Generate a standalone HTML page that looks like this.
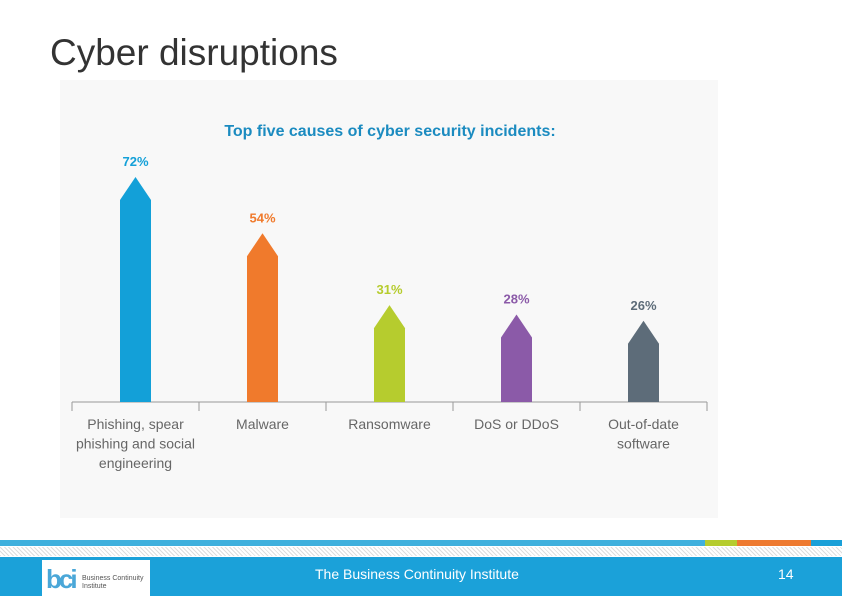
<!DOCTYPE html>
<html><head><meta charset="utf-8"><style>
body{margin:0;width:842px;height:596px;overflow:hidden;background:#fff;font-family:"Liberation Sans",sans-serif;position:relative}
.abs{position:absolute}
</style></head><body>
<div class="abs" style="left:50px;top:32px;font-size:37px;color:#333">Cyber disruptions</div>
<div class="abs" style="left:60px;top:80px;width:658px;height:438px;background:#f8f8f8"></div>
<svg class="abs" style="left:0;top:0" width="842" height="596">
<text x="390" y="136" text-anchor="middle" font-size="16" font-weight="bold" fill="#1b8bc0" font-family="Liberation Sans, sans-serif">Top five causes of cyber security incidents:</text>
<g id="g"></g>
</svg>
<div class="abs" style="left:0;top:540px;width:842px;height:6px;background:#3fb0dd"></div>
<div class="abs" style="left:705px;top:540px;width:32px;height:6px;background:#b5cc2e"></div>
<div class="abs" style="left:737px;top:540px;width:74px;height:6px;background:#ee7a30"></div>
<div class="abs" style="left:811px;top:540px;width:31px;height:6px;background:#1aa0d8"></div>
<div class="abs" style="left:0;top:547px;width:842px;height:9px;background:repeating-linear-gradient(45deg,#ddd 0 1px,#fff 1px 3px)"></div>
<div class="abs" style="left:0;top:557px;width:842px;height:39px;background:#1ba1d9"></div>
<div class="abs" style="left:42px;top:560px;width:108px;height:36px;background:#fff">
<div class="abs" style="left:4px;top:4px;font-size:26px;font-weight:bold;color:#4aa7d8;letter-spacing:-3px">bci</div>
<div class="abs" style="left:40px;top:15px;font-size:7px;color:#555;line-height:8px">Business Continuity<br>Institute</div></div>
<div class="abs" style="left:315px;top:566px;font-size:14px;color:#fff">The Business Continuity Institute</div>
<div class="abs" style="left:778px;top:566px;font-size:14px;color:#fff">14</div>
<script>
const categories=[["Phishing, spear","phishing and social","engineering"],["Malware"],["Ransomware"],["DoS or DDoS"],["Out-of-date","software"]];
const values=[72,54,31,28,26];
const labels=["72%","54%","31%","28%","26%"];
const colors=["#13a0d8","#f07a2c","#b6cc2e","#8b5aa8","#5d6c79"];
const NS="http://www.w3.org/2000/svg",g=document.getElementById('g');
const x0=72,x1=707,base=402,n=categories.length,bw=(x1-x0)/n;
const y=v=>base-v*3.125, cx=i=>x0+bw*(i+0.5);
function mk(t,a){const e=document.createElementNS(NS,t);for(const k in a)e.setAttribute(k,a[k]);g.appendChild(e);return e;}
let ax=mk('line',{x1:x0,x2:x1,y1:base,y2:base,stroke:'#999','stroke-width':1});


for(let i=0;i<=n;i++){let t=mk('line',{x1:x0+bw*i,x2:x0+bw*i,y1:base,y2:base+9,stroke:'#999'});

}
values.forEach((v,i)=>{const c=cx(i),w=31,top=y(v);
const p=mk('polygon',{points:`${c-w/2},${base} ${c-w/2},${top+23} ${c},${top} ${c+w/2},${top+23} ${c+w/2},${base}`,fill:colors[i]});


const t=mk('text',{x:c,y:top-11,'text-anchor':'middle','font-size':13,'font-weight':'bold',fill:colors[i]});t.textContent=labels[i];


categories[i].forEach((s,j)=>{const l=mk('text',{x:c,y:base+27+j*19.5,'text-anchor':'middle','font-size':14,fill:'#666'});l.textContent=s;

});
});
</script>
</body></html>
